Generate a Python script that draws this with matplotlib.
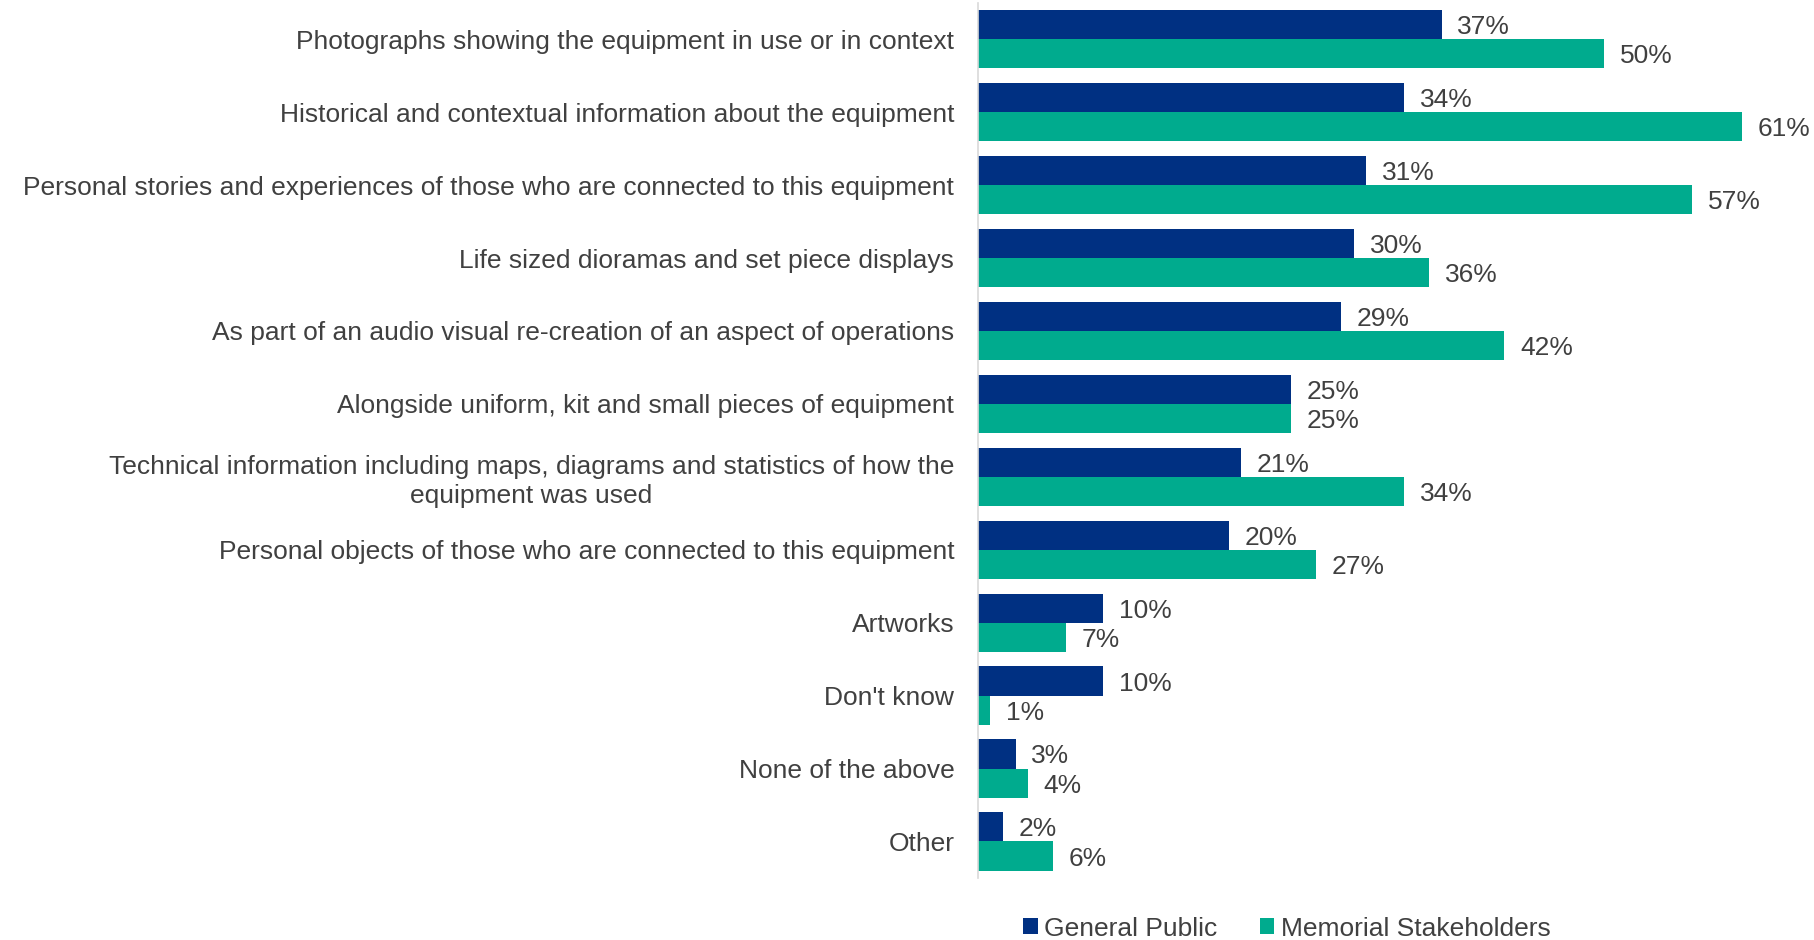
import matplotlib as mpl
import matplotlib.pyplot as plt
import numpy as np

mpl.rcParams.update({
    "font.family": ["Liberation Sans", "DejaVu Sans"],
    "font.size": 19,
    "text.color": "#404040",
})

categories = [
    "Photographs showing the equipment in use or in context",
    "Historical and contextual information about the equipment",
    "Personal stories and experiences of those who are connected to this equipment",
    "Life sized dioramas and set piece displays",
    "As part of an audio visual re-creation of an aspect of operations",
    "Alongside uniform, kit and small pieces of equipment",
    "Technical information including maps, diagrams and statistics of how the\nequipment was used",
    "Personal objects of those who are connected to this equipment",
    "Artworks",
    "Don't know",
    "None of the above",
    "Other",
]
general_public = [37, 34, 31, 30, 29, 25, 21, 20, 10, 10, 3, 2]
memorial_stakeholders = [50, 61, 57, 36, 42, 25, 34, 27, 7, 1, 4, 6]
series_names = ["General Public", "Memorial Stakeholders"]

GP_COLOR = "#003082"
MS_COLOR = "#00AB8E"

fig = plt.figure(figsize=(18.15, 9.4), dpi=100)
ax = fig.add_axes([0.5388, 0.066, 0.4612, 0.931])

y = np.arange(len(categories))
h = 0.4
ax.barh(y - h / 2, general_public, height=h, color=GP_COLOR, label=series_names[0])
ax.barh(y + h / 2, memorial_stakeholders, height=h, color=MS_COLOR, label=series_names[1])

for yi, v in zip(y, general_public):
    ax.text(v + 1.25, yi - h / 2, f"{v}%", va="center_baseline", ha="left", fontsize=19, color="#404040")
for yi, v in zip(y, memorial_stakeholders):
    ax.text(v + 1.25, yi + h / 2, f"{v}%", va="center_baseline", ha="left", fontsize=19, color="#404040")

ax.set_ylim(len(categories) - 0.5, -0.5)
ax.set_xlim(0, 66.8)
ax.set_yticks(y)
ax.set_yticklabels(categories, fontsize=19, color="#404040", linespacing=1.22)
for lbl in ax.get_yticklabels():
    lbl.set_multialignment("center")
ax.tick_params(axis="y", length=0, pad=17)
ax.set_xticks([])

for side in ("top", "right", "bottom"):
    ax.spines[side].set_visible(False)
ax.spines["left"].set_color("#D9D9D9")
ax.spines["left"].set_linewidth(1.2)

fig.legend(
    loc="center", bbox_to_anchor=(0.709, 0.012), ncol=2, frameon=False,
    fontsize=19, handlelength=0.55, handleheight=0.55, handletextpad=0.25,
    columnspacing=1.6,
)

fig.savefig("out.png", dpi=100)
